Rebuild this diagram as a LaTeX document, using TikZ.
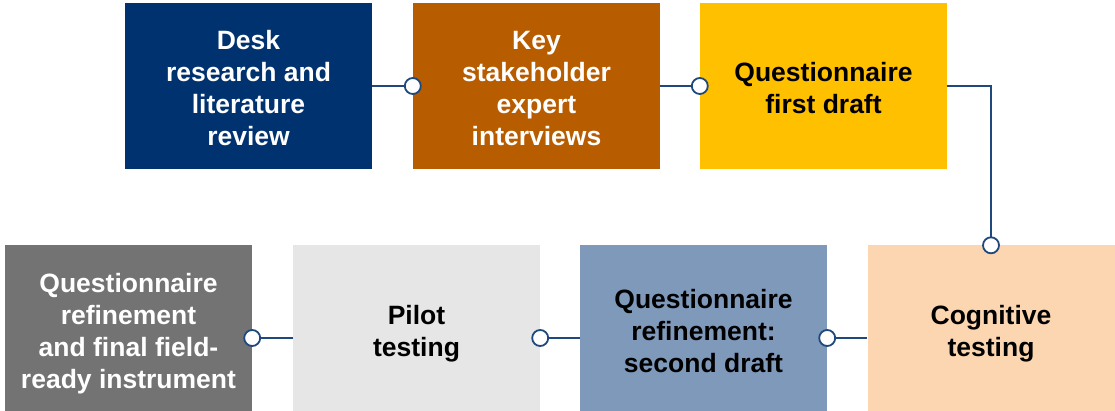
\documentclass[tikz,border=0pt]{standalone}
\usepackage{fontspec}
\setmainfont{Liberation Sans}
\usepackage{xcolor}
\usepackage{tikz}
\usetikzlibrary{positioning}

\definecolor{navy}{RGB}{0,50,112}
\definecolor{rust}{RGB}{184,92,0}
\definecolor{gold}{RGB}{255,192,0}
\definecolor{peach}{RGB}{252,214,176}
\definecolor{steel}{RGB}{127,153,187}
\definecolor{lightgrey}{RGB}{230,230,230}
\definecolor{darkgrey}{RGB}{115,115,115}
\definecolor{linkblue}{RGB}{31,73,125}

% text block, lowered a little inside its box
\newcommand{\stagelines}[2][5pt]{\raisebox{-#1}[\height][\depth]{\begin{tabular}{@{}c@{}}#2\end{tabular}}}

\begin{document}
\begin{tikzpicture}[
        x=1pt, y=-1pt,
        stage/.style={rectangle, minimum width=247pt, minimum height=166pt, inner sep=0pt,
            align=center, font=\fontsize{26.5}{32}\selectfont\bfseries},
        joint/.style={circle, draw=linkblue, fill=white, line width=1.8pt, minimum size=16pt, inner sep=0pt},
        link/.style={draw=linkblue, line width=1.6pt}
    ]
        \useasboundingbox (0,0) rectangle (1115,411);
        \node[stage, fill=navy, text=white] (desk) at (248.5,86) {\stagelines{Desk\\research and\\literature\\review}};
        \node[stage, fill=rust, text=white] (experts) at (536.5,86) {\stagelines{Key\\stakeholder\\expert\\interviews}};
        \node[stage, fill=gold] (draft1) at (823.5,86) {\stagelines{Questionnaire\\first draft}};
        \node[stage, fill=peach] (cognitive) at (991,328.5) {\stagelines[6pt]{Cognitive\\testing}};
        \node[stage, fill=steel] (draft2) at (703.5,328.5) {\stagelines[6pt]{Questionnaire\\refinement:\\second draft}};
        \node[stage, fill=lightgrey] (pilot) at (416.5,328.5) {\stagelines[6pt]{Pilot\\testing}};
        \node[stage, fill=darkgrey, text=white] (final) at (128.5,328.5) {\stagelines[6pt]{Questionnaire\\refinement\\and final field-\\ready instrument}};
        \draw[link] (desk.east) -- (experts.west) node[joint] (j1) {};
        \draw[link] (experts.east) -- (draft1.west) node[joint] (j2) {};
        \draw[link] (draft1.east) -| (cognitive.north) node[joint] (j3) {};
        \draw[link] ([yshift=-9.5pt]cognitive.west) -- ([yshift=-9.5pt]draft2.east) node[joint] (j4) {};
        \draw[link] ([yshift=-9.5pt]draft2.west) -- ([yshift=-9.5pt]pilot.east) node[joint] (j5) {};
        \draw[link] ([yshift=-9.5pt]pilot.west) -- ([yshift=-9.5pt]final.east) node[joint] (j6) {};
    \end{tikzpicture}
\end{document}
